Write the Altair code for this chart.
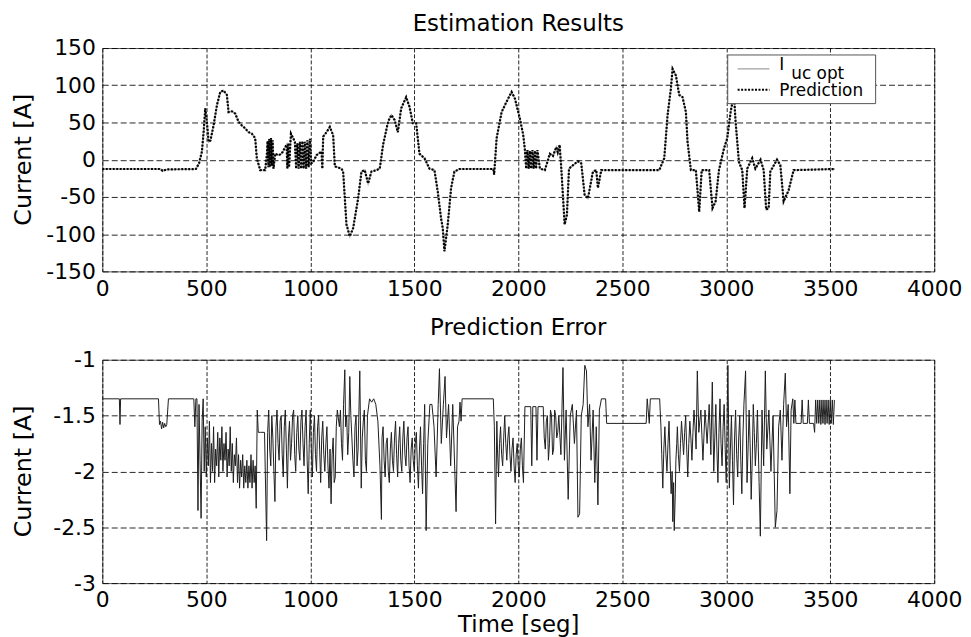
import altair as alt
import pandas as pd

# ---------------- data ----------------
est_time = [0, 280, 290, 310, 450, 465, 479, 487, 495, 503, 511, 520, 535, 551, 567, 583, 599, 607,
            623, 639, 655, 671, 687, 703, 719, 735, 743, 759, 783, 791, 795, 799, 803, 807, 811, 815,
            819, 823, 831, 847, 862, 876, 886, 890, 894, 898, 907, 916, 926, 932, 938, 944, 950, 956,
            962, 968, 974, 980, 986, 992, 998, 1005, 1014, 1030, 1054, 1058, 1062, 1078, 1094, 1110,
            1118, 1150, 1158, 1174, 1190, 1206, 1230, 1246, 1262, 1278, 1294, 1318, 1334, 1350, 1374,
            1390, 1406, 1421, 1437, 1461, 1477, 1493, 1509, 1525, 1549, 1573, 1597, 1613, 1629, 1637,
            1645, 1661, 1677, 1693, 1717, 1880, 1884, 1896, 1920, 1944, 1968, 1984, 2008, 2024, 2032,
            2038, 2044, 2050, 2056, 2062, 2068, 2074, 2080, 2086, 2092, 2104, 2128, 2152, 2167, 2183,
            2190, 2199, 2207, 2223, 2234, 2244, 2265, 2287, 2303, 2319, 2335, 2359, 2375, 2383, 2399,
            2678, 2702, 2718, 2734, 2742, 2758, 2774, 2790, 2806, 2814, 2830, 2854, 2870, 2882, 2918,
            2934, 2949, 2965, 2989, 3005, 3021, 3037, 3045, 3061, 3077, 3088, 3101, 3125, 3140, 3165,
            3180, 3192, 3204, 3212, 3244, 3260, 3276, 3300, 3324, 3523]
iuc_opt = [-12.5, -12.5, -15, -13, -12.5, -5, 11, 37, 69, 51, 24, 26, 46, 73, 91, 93, 87, 64,
           65, 62, 51, 46, 42, 37, 35, 29, 2, -14, -14, 6, 25, -10, 28, -10, 29, -8,
           26, -12, 8, 6, 8, 15, 20, -12, 22, -10, 35, 30, 24, -12, 22, -12, 24, -12,
           25, -12, 24, -12, 26, -10, 28, -5, -3, 6, 11, -12, 31, 37, 44, 33,
           -9, -12, -16, -87, -103, -92, -52, -16, -14, -32, -16, -14, -12, 20, 51,
           60, 53, 37, 69, 84, 71, 49, 49, 8, 2, -12, -14, -43, -79, -92,
           -123, -87, -38, -16, -12.5, -12.5, -20, 29, 64, 78, 91, 82, 55, 33, 13,
           -12, 13, -12, 12, -12, 13, -12, 12, -12, 13, -12, -14, 8, 5, 17,
           10, 20, -12, -87, -74, -12, -7, -2, -5, -47, -52, -16, -14, -38, -14,
           -14, 2, 60, 96, 122, 113, 87, 84, 64, 24, -14, -14, -70, -14, -14,
           -65, -56, -14, 15, 29, 64, 88, 51, -3, -14, -65, -12, 2, -12, 0,
           -14, -67, -65, -16, 0, -7, -56, -41, -14, -12.5]
prediction = list(iuc_opt)

# prediction error, (time [seg], error [A]) pairs, segment by segment
err_start = [(0, -1.35), (82, -1.35), (85, -1.58), (88, -1.35), (270, -1.35), (275, -1.58),
             (280, -1.55), (285, -1.62), (290, -1.56), (295, -1.61), (300, -1.57), (305, -1.60),
             (310, -1.58), (318, -1.35), (440, -1.35), (445, -1.60), (450, -1.35)]
err_seg1 = [(455, -1.35), (460, -2.35), (465, -1.4), (470, -1.9), (475, -2.42), (480, -1.55),
            (485, -1.35), (490, -2.0), (495, -1.6), (500, -2.05), (505, -1.7), (510, -1.95),
            (515, -1.55), (520, -2.1), (525, -1.75), (530, -2.0), (535, -1.6), (540, -2.1),
            (545, -1.8), (550, -1.95), (555, -1.65), (560, -2.05), (565, -1.7), (570, -1.9),
            (575, -1.6), (580, -2.0), (585, -1.75), (590, -1.9), (595, -1.65), (600, -2.05),
            (605, -1.8), (610, -1.95), (615, -1.6), (620, -2.0), (625, -1.75), (630, -2.1),
            (635, -1.85), (640, -1.95), (645, -1.7), (650, -2.1), (655, -1.85), (660, -2.15),
            (665, -1.9), (670, -2.05), (675, -1.85), (680, -2.15), (685, -1.95), (690, -2.1),
            (695, -1.9), (700, -2.15), (705, -1.95), (710, -2.1), (715, -1.85), (720, -2.15),
            (725, -1.9), (730, -2.1), (735, -1.95), (740, -2.33), (745, -1.45), (750, -1.65),
            (760, -1.65), (780, -1.65), (790, -2.62), (795, -1.65)]
err_seg2 = [(800, -1.45), (805, -1.8), (810, -1.95), (815, -1.5), (820, -1.7), (825, -2.0),
            (830, -2.27), (835, -1.6), (840, -1.45), (845, -1.75), (850, -1.9), (855, -1.55),
            (860, -1.5), (865, -1.85), (870, -2.05), (875, -1.6), (880, -1.45), (885, -1.8),
            (890, -2.15), (895, -1.7), (900, -1.55), (905, -1.9), (910, -1.75), (915, -1.5),
            (920, -1.45), (925, -1.85), (930, -2.0), (935, -1.65), (940, -1.5), (945, -1.8),
            (950, -1.9), (955, -1.55), (960, -1.45), (965, -1.75), (970, -1.95), (975, -1.6),
            (980, -1.45), (985, -1.9), (990, -2.2), (995, -1.75), (1000, -1.45), (1005, -1.8),
            (1010, -2.05), (1015, -1.65), (1020, -1.5), (1025, -1.85), (1030, -2.0), (1035, -1.6),
            (1040, -1.5), (1045, -1.8), (1050, -2.1), (1055, -1.7), (1060, -1.55), (1065, -1.85),
            (1070, -2.0), (1075, -1.75), (1080, -1.6), (1085, -1.95), (1090, -2.15), (1095, -1.8),
            (1100, -2.29), (1105, -1.85), (1110, -1.7), (1115, -2.1), (1120, -2.05), (1125, -1.6),
            (1130, -1.45)]
err_seg3 = [(1140, -1.6), (1145, -1.45), (1150, -1.75), (1155, -1.9), (1160, -1.4), (1166, -1.09),
            (1170, -1.6), (1175, -1.5), (1180, -1.85), (1185, -1.65), (1190, -1.15), (1195, -1.5),
            (1200, -1.7), (1205, -1.9), (1210, -2.05), (1215, -1.6), (1220, -1.5), (1225, -1.95),
            (1230, -1.8), (1238, -1.1), (1245, -2.15), (1250, -1.7), (1255, -1.55), (1260, -1.45),
            (1265, -1.9), (1270, -2.0), (1275, -1.5), (1285, -1.35), (1295, -1.38), (1305, -1.35),
            (1315, -1.4), (1325, -1.55), (1335, -1.95)]
err_seg4 = [(1342, -2.43), (1345, -1.7), (1350, -1.6), (1355, -1.9), (1360, -2.05), (1365, -1.75),
            (1370, -1.7), (1375, -2.0), (1380, -2.1), (1385, -1.8), (1390, -1.65), (1395, -1.9),
            (1400, -2.0), (1405, -1.7), (1410, -1.55), (1415, -1.85), (1420, -2.05), (1425, -1.75),
            (1430, -1.6), (1435, -1.9), (1440, -2.0), (1445, -1.7), (1450, -1.55), (1455, -1.85),
            (1460, -1.95), (1465, -1.7), (1470, -1.6), (1475, -1.95), (1480, -2.1), (1485, -1.8),
            (1490, -1.7), (1495, -1.9), (1500, -2.0), (1505, -1.75), (1510, -1.65), (1515, -1.95),
            (1520, -2.15), (1525, -1.8), (1530, -1.6), (1535, -1.95), (1540, -2.2), (1545, -1.75),
            (1550, -1.4), (1557, -2.53)]
err_seg5 = [(1565, -1.75), (1575, -1.4), (1585, -1.4), (1595, -1.6), (1605, -2.05), (1615, -1.4),
            (1621, -1.08), (1630, -1.75), (1640, -1.4), (1648, -1.15), (1655, -1.7), (1665, -1.4),
            (1675, -1.95), (1685, -1.4), (1695, -2.0), (1701, -2.36), (1708, -1.6), (1715, -1.55),
            (1720, -1.38), (1725, -1.55), (1730, -1.35), (1880, -1.35), (1885, -1.6), (1891, -2.47)]
err_seg6 = [(1897, -1.55), (1900, -1.8), (1905, -2.05), (1910, -1.75), (1915, -1.6), (1920, -1.85),
            (1925, -1.95), (1930, -1.7), (1935, -1.5), (1940, -1.75), (1945, -1.9), (1950, -1.7),
            (1955, -1.6), (1960, -1.85), (1965, -2.0), (1970, -1.8), (1975, -1.7), (1980, -1.95),
            (1985, -2.1), (1990, -1.85), (1995, -1.75), (2000, -1.95), (2005, -2.05), (2010, -1.8),
            (2015, -1.7), (2020, -1.95), (2025, -2.1), (2032, -1.42)]
err_seg7 = [(2060, -1.42), (2065, -1.95), (2070, -1.42), (2085, -1.42), (2090, -1.9), (2095, -1.42),
            (2120, -1.42), (2125, -1.7), (2130, -1.8), (2135, -1.55), (2140, -1.5), (2145, -1.9),
            (2150, -1.75), (2155, -1.45), (2160, -1.5), (2165, -1.85), (2170, -1.8), (2175, -1.45),
            (2180, -1.5), (2185, -1.7), (2190, -1.65), (2195, -1.5), (2205, -1.85), (2215, -1.07),
            (2222, -1.9), (2230, -1.45), (2240, -2.25), (2250, -1.5), (2260, -1.4), (2270, -1.75),
            (2280, -1.45), (2287, -2.41), (2295, -2.38), (2303, -1.5), (2312, -1.4), (2320, -1.05),
            (2328, -1.1), (2335, -1.6), (2343, -1.4), (2350, -1.9), (2360, -1.45), (2368, -2.1),
            (2375, -1.6), (2383, -2.3), (2390, -1.45), (2400, -1.35), (2420, -1.35), (2425, -1.57),
            (2615, -1.57), (2620, -1.35), (2630, -1.57), (2635, -1.35), (2680, -1.35)]
err_seg8 = [(2686, -1.6), (2690, -1.85), (2695, -2.15), (2700, -1.8), (2705, -1.6), (2710, -1.85),
            (2715, -2.0), (2720, -1.75), (2725, -1.55), (2730, -1.9), (2735, -2.2), (2740, -2.0),
            (2743, -2.45), (2747, -2.1), (2750, -2.53), (2755, -2.2), (2758, -1.9), (2762, -1.75),
            (2765, -1.6), (2770, -1.85), (2775, -2.0), (2780, -1.75), (2785, -1.55), (2790, -1.7),
            (2795, -1.85), (2800, -1.65), (2805, -1.5), (2810, -1.8), (2815, -2.05), (2820, -1.75),
            (2825, -1.55), (2830, -1.7), (2835, -1.9), (2840, -1.65), (2845, -1.45), (2850, -1.6),
            (2855, -1.8), (2861, -1.1)]
err_seg9 = [(2868, -1.65), (2878, -1.45), (2888, -1.9), (2898, -1.45), (2908, -1.75), (2918, -1.4),
            (2926, -1.85), (2933, -1.2), (2940, -2.0), (2945, -1.7), (2950, -1.4), (2955, -1.8),
            (2960, -2.1), (2965, -1.65), (2970, -1.35), (2975, -1.75), (2980, -1.95), (2985, -1.6),
            (2990, -1.4), (2995, -1.8), (3000, -2.1), (3008, -1.05), (3015, -2.15), (3020, -1.8),
            (3025, -1.5), (3030, -1.9), (3035, -2.3), (3040, -1.7), (3045, -1.45), (3050, -1.85),
            (3055, -2.05), (3060, -1.7), (3065, -1.5), (3070, -1.9), (3075, -2.2), (3080, -1.7),
            (3085, -1.4), (3093, -1.1), (3100, -2.1), (3105, -1.8), (3110, -1.45), (3115, -1.75),
            (3120, -2.25), (3125, -1.9), (3130, -1.4), (3135, -1.65), (3140, -1.95), (3145, -1.75),
            (3150, -1.45), (3158, -2.1), (3164, -2.58), (3172, -1.45), (3180, -1.95), (3188, -1.1),
            (3195, -1.8), (3205, -1.45), (3215, -2.0), (3225, -1.5), (3236, -2.5), (3244, -2.35),
            (3252, -1.6), (3260, -1.45), (3268, -1.9), (3276, -1.4), (3284, -1.12), (3290, -1.6),
            (3298, -1.4), (3306, -2.2), (3312, -1.45), (3320, -1.35)]
err_end = [(3325, -1.57), (3330, -1.36), (3335, -1.57), (3360, -1.57), (3365, -1.36), (3370, -1.57),
           (3390, -1.57), (3395, -1.36), (3400, -1.57), (3420, -1.57), (3425, -1.65), (3430, -1.36),
           (3435, -1.57), (3440, -1.36), (3445, -1.57), (3450, -1.36), (3455, -1.58), (3460, -1.36),
           (3465, -1.57), (3470, -1.36), (3475, -1.58), (3480, -1.36), (3485, -1.57), (3490, -1.36),
           (3495, -1.58), (3500, -1.36), (3505, -1.57), (3510, -1.36), (3515, -1.58), (3520, -1.36)]

x_ticks = [0, 500, 1000, 1500, 2000, 2500, 3000, 3500, 4000]
top_y_ticks = [-150, -100, -50, 0, 50, 100, 150]
bot_y_ticks = [-3, -2.5, -2, -1.5, -1]
legend_labels = ["I", "uc opt", "Prediction"]

FONT = "DejaVu Sans"
W, H = 838, 225

est_df = pd.DataFrame({"t": est_time, "iuc": iuc_opt, "pred": prediction})
err_pairs = (err_start + err_seg1 + err_seg2 + err_seg3 + err_seg4 + err_seg5 + err_seg6
             + err_seg7 + err_seg8 + err_seg9 + err_end)
err_df = pd.DataFrame(err_pairs, columns=["t", "err"])


def xaxis(title=None):
    kw = dict(values=x_ticks, labelExpr="'' + datum.value", labelFontSize=22, labelFont=FONT,
              labelColor="#000", labelFlush=False, labelOverlap=False, labelPadding=7,
              ticks=False, domain=False, grid=True, gridColor="#000", gridDash=[4, 2],
              gridOpacity=0.85, gridWidth=1, tickCount=len(x_ticks))
    if title:
        kw.update(title=title, titleFontSize=23, titleFont=FONT, titleFontWeight="normal",
                  titleColor="#000", titlePadding=3)
    else:
        kw.update(title=None)
    return alt.Axis(**kw)


def yaxis(vals):
    return alt.Axis(values=vals, labelExpr="'' + datum.value", labelFontSize=22, labelFont=FONT,
                    labelColor="#000", labelOverlap=False, labelPadding=7, labelFlush=False,
                    ticks=False, domain=False, grid=True, gridColor="#000", gridDash=[6, 3],
                    gridOpacity=0.85, gridWidth=1, tickCount=len(vals), title="Current [A]",
                    titleFontSize=24, titleFont=FONT, titleFontWeight="normal", titleColor="#000",
                    titleX=-67, titleY=112, titleAngle=270, titleBaseline="bottom")


xs = alt.Scale(domain=[0, 4000], nice=False, zero=False)
ys_top = alt.Scale(domain=[-150, 150], nice=False, zero=False)

base_top = alt.Chart(est_df)
gray = base_top.mark_line(color="#a0a0a0", strokeWidth=1.5).encode(
    x=alt.X("t:Q", scale=xs, axis=xaxis()),
    y=alt.Y("iuc:Q", scale=ys_top, axis=yaxis(top_y_ticks)),
)
dotted = base_top.mark_line(color="#000", strokeWidth=2.2, strokeDash=[2, 1.5]).encode(
    x=alt.X("t:Q", scale=xs, axis=xaxis()),
    y=alt.Y("pred:Q", scale=ys_top, axis=yaxis(top_y_ticks)),
)

one = pd.DataFrame({"k": [0]})
leg_box = alt.Chart(one).mark_rect(fill="white", stroke="#555", strokeWidth=1).encode(
    x=alt.value(630), x2=alt.value(779), y=alt.value(7), y2=alt.value(56))
leg_gray = alt.Chart(one).mark_rule(color="#a0a0a0", strokeWidth=1.5).encode(
    x=alt.value(640), x2=alt.value(672), y=alt.value(21))
leg_dot = alt.Chart(one).mark_rule(color="#000", strokeWidth=2, strokeDash=[2, 1.5]).encode(
    x=alt.value(640), x2=alt.value(672), y=alt.value(42))
leg_I = alt.Chart(pd.DataFrame({"s": [legend_labels[0]]})).mark_text(
    font=FONT, fontSize=17, align="left", baseline="middle", color="#000").encode(
    x=alt.value(682), y=alt.value(17), text="s:N")
leg_uc = alt.Chart(pd.DataFrame({"s": [legend_labels[1]]})).mark_text(
    font=FONT, fontSize=17, align="left", baseline="middle", color="#000").encode(
    x=alt.value(694), y=alt.value(26), text="s:N")
leg_pred = alt.Chart(pd.DataFrame({"s": [legend_labels[2]]})).mark_text(
    font=FONT, fontSize=17, align="left", baseline="middle", color="#000").encode(
    x=alt.value(682), y=alt.value(43), text="s:N")

top = alt.layer(gray, dotted, leg_box, leg_gray, leg_dot, leg_I, leg_uc, leg_pred).properties(
    width=W, height=H,
    title=alt.TitleParams("Estimation Results", fontSize=23, font=FONT, fontWeight="normal",
                          color="#000", offset=1, anchor="middle"),
)

bottom = alt.Chart(err_df).mark_line(color="#1e1e1e", strokeWidth=1).encode(
    x=alt.X("t:Q", scale=xs, axis=xaxis("Time [seg]")),
    y=alt.Y("err:Q", scale=alt.Scale(domain=[-3, -1], nice=False, zero=False), axis=yaxis(bot_y_ticks)),
).properties(
    width=W, height=H,
    title=alt.TitleParams("Prediction Error", fontSize=23, font=FONT, fontWeight="normal",
                          color="#000", offset=9, anchor="middle"),
)

chart = alt.vconcat(top, bottom, spacing=16).properties(
    padding={"left": 3, "top": 2, "right": 0, "bottom": 0},
    background="white",
).configure_view(stroke="#555", strokeWidth=1)

chart.save("out.html", embed_options={"renderer": "svg", "actions": False})
